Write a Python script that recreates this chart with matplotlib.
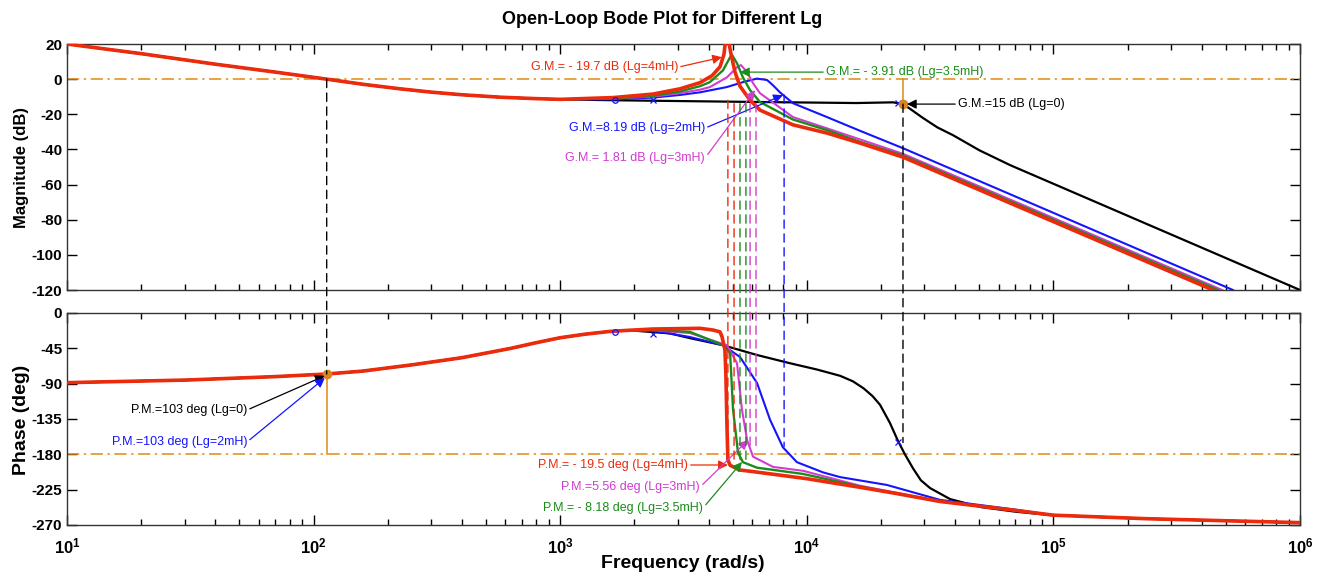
import matplotlib
matplotlib.use("Agg")
import matplotlib.pyplot as plt
from matplotlib.patches import ConnectionPatch
from matplotlib.ticker import LogLocator, NullFormatter

plt.rcParams['font.family'] = ['Liberation Sans Narrow', 'Liberation Sans', 'DejaVu Sans']
plt.rcParams['mathtext.fontset'] = 'custom'
plt.rcParams['mathtext.rm'] = 'Liberation Sans:bold'
plt.rcParams['mathtext.bf'] = 'Liberation Sans:bold'

# ---------------- data ----------------
# shared low-frequency magnitude (all Lg overlap), rad/s and dB
low_mag_w = [10, 20, 40, 70, 113, 160, 224, 300, 400, 575, 800, 1000]
low_mag_db = [20, 14.5, 8.5, 4.0, 0.0, -3.0, -5.5, -7.4, -8.9, -10.3, -11.1, -11.5]

black_mag_w = [1637, 3162, 6310, 10000, 15850, 22390, 24550, 26300, 29510, 33880, 39170, 50120, 66680, 1000000]
black_mag_db = [-12, -12.5, -13, -13.3, -13.6, -13.2, -14.2, -17, -22, -27.5, -31.9, -40.5, -48.9, -120]

blue_mag_w = [1637, 2377, 3062, 3690, 4742, 5508, 6281, 6902, 7295, 7780, 8790, 12080, 16440, 24550, 534600]
blue_mag_db = [-11.5, -10.5, -9, -7.5, -4.5, -1.7, 0.3, -0.5, -3.5, -7.5, -13.7, -21.6, -29.4, -39.3, -120]

magenta_mag_w = [1637, 2377, 3062, 3690, 4046, 4742, 5212, 5408, 5728, 6053, 6457, 8790, 12080, 16440, 24550, 483100]
magenta_mag_db = [-11, -10, -8, -6, -4.5, 1, 6.8, 8, 4, -2.3, -8, -21.6, -28, -34.3, -42.5, -120]

green_mag_w = [1637, 2377, 3062, 3690, 4046, 4571, 4887, 4977, 5212, 5508, 5888, 6457, 8790, 12080, 16440, 24550, 464500]
green_mag_db = [-11, -9.5, -7, -4, -1.7, 5, 12.5, 13.7, 9, 1, -6.3, -13, -23, -29, -35.7, -43.5, -120]

red_mag_w = [1637, 2377, 3062, 3690, 4130, 4446, 4613, 4699, 4786, 4932, 5117, 5358, 5888, 6457, 8790, 12080, 16440, 24550, 443600]
red_mag_db = [-10.5, -8.5, -5.5, -2, 2, 7, 14, 24, 24, 14, 4, -4, -12, -17.6, -26, -30.7, -36.4, -44.4, -120]

# shared low-frequency phase, rad/s and deg
low_ph_w = [10, 30.4, 70, 113, 158, 251, 398, 631, 794, 1000, 1259, 1585, 1900]
low_ph_deg = [-88.7, -85.4, -81, -77.7, -74, -66, -57, -45, -38, -31.5, -27, -23.5, -22]
# shared high-frequency phase tail
tail_ph_w = [100000, 239900, 1000000]
tail_ph_deg = [-257.5, -262, -267]

black_ph_w = [2786, 3357, 4571, 6281, 8551, 11000, 13650, 15380, 17000, 18500, 19820, 21730, 23440, 25000, 26980, 29000, 31620, 38110, 50350, 70000, 94190]
black_ph_deg = [-26, -32, -41, -53.5, -64, -72, -80, -87, -96, -106, -117, -140, -163, -180, -198, -213, -223, -237, -247, -253, -257]

blue_ph_w = [2377, 3357, 4571, 5358, 6281, 7096, 7998, 9120, 11640, 13650, 21130, 34670, 68550]
blue_ph_deg = [-22.5, -30.6, -41, -56, -89, -136, -171, -190, -203, -209, -219, -238, -250]

magenta_ph_w = [2377, 3357, 4742, 5212, 5458, 5728, 6053, 7295, 9661, 16440, 23200, 34670, 68550]
magenta_ph_deg = [-22, -25.5, -41, -64, -123, -162, -183, -196, -201, -220, -229, -240, -251]

green_ph_w = [2377, 3357, 4571, 4887, 4950, 5023, 5260, 5508, 6281, 9661, 16440, 23200, 34670, 68550]
green_ph_deg = [-21.5, -24, -41, -51, -85, -123, -178, -190, -197, -205, -221, -230, -240, -251]

red_ph_w = [2377, 3690, 4169, 4446, 4529, 4656, 4699, 4742, 4786, 4887, 5358, 6053, 10000, 16440, 23200, 34670, 68550]
red_ph_deg = [-20.4, -19.5, -21.7, -24, -30, -47, -80, -140, -187, -194, -200, -202, -211, -222, -230, -240, -251]

# margin marker lines: frequency, magnitude start dB, phase end deg, colour
margin_w = [113, 24550, 4786, 5070, 5358, 5664, 5888, 6223, 8090]
margin_mag = [0, -14.2, -12, -14, -14, -14, -14, -14, -9]
margin_ph = [-77.7, -165, -183, -186, -187, -188, -170, -174, -170]
margin_col = ['black', 'black', 'red', 'red', 'green', 'green', 'magenta', 'magenta', 'blue']

colors = {'black': '#000000', 'blue': '#1414ff', 'magenta': '#d23cd2',
          'green': '#1b8c1b', 'red': '#ec2a0c', 'orange': '#e08a10'}

# ---------------- figure ----------------
fig = plt.figure(figsize=(13.2, 5.78), dpi=100)
ax1 = fig.add_axes([67/1320, 1-290/578, 1233/1320, 246/578])
ax2 = fig.add_axes([67/1320, 1-525/578, 1233/1320, 212/578])

series = [
    ('black', black_mag_w, black_mag_db, black_ph_w, black_ph_deg, 1.6),
    ('blue', blue_mag_w, blue_mag_db, blue_ph_w, blue_ph_deg, 1.5),
    ('magenta', magenta_mag_w, magenta_mag_db, magenta_ph_w, magenta_ph_deg, 1.5),
    ('green', green_mag_w, green_mag_db, green_ph_w, green_ph_deg, 1.7),
    ('red', red_mag_w, red_mag_db, red_ph_w, red_ph_deg, 2.6),
]
for key, mw, md, pw, pd, lw in series:
    c = colors[key]
    ax1.plot(low_mag_w + mw, low_mag_db + md, color=c, lw=lw, zorder=3)
    ax2.plot(low_ph_w + pw + tail_ph_w, low_ph_deg + pd + tail_ph_deg, color=c, lw=lw, zorder=3)

for ax in (ax1, ax2):
    ax.set_xscale('log')
    ax.set_xlim(10, 1e6)
    ax.tick_params(which='both', direction='in', top=True, right=True, labelsize=11)
    ax.tick_params(which='major', length=7, width=1)
    ax.tick_params(which='minor', length=4, width=1)
    ax.xaxis.set_minor_locator(LogLocator(base=10, subs=range(2, 10), numticks=20))
    ax.xaxis.set_minor_formatter(NullFormatter())
    for sp in ax.spines.values():
        sp.set_linewidth(1.0)
        sp.set_color('#333333')

ax1.set_ylim(-120, 20)
ax1.set_yticks([20, 0, -20, -40, -60, -80, -100, -120])
ax1.set_yticklabels(['20', '0', '-20', '-40', '-60', '-80', '-100', '-120'], fontweight='bold')
ax1.xaxis.set_major_formatter(NullFormatter())

ax2.set_ylim(-270, 0)
ax2.set_yticks([0, -45, -90, -135, -180, -225, -270])
ax2.set_yticklabels(['0', '-45', '-90', '-135', '-180', '-225', '-270'], fontweight='bold')
ax2.set_xticks([1e1, 1e2, 1e3, 1e4, 1e5, 1e6])
ax2.set_xticklabels([r'$\mathbf{10^{%d}}$' % k for k in range(1, 7)], fontsize=12)
ax2.tick_params(axis='x', which='major', pad=8)

# reference lines
ax1.axhline(0, color=colors['orange'], ls=(0, (8, 3, 1.5, 3)), lw=1.1, zorder=2)
ax2.axhline(-180, color=colors['orange'], ls=(0, (8, 3, 1.5, 3)), lw=1.1, zorder=2)

# margin dashed lines spanning both axes
for w, m, p, ck in zip(margin_w, margin_mag, margin_ph, margin_col):
    con = ConnectionPatch(xyA=(w, m), coordsA=ax1.transData, xyB=(w, p), coordsB=ax2.transData,
                          color=colors[ck], ls=(0, (6, 4)), lw=1.0, zorder=1)
    fig.add_artist(con)

# orange margin markers
ax2.plot([113, 113], [-77.7, -180], color=colors['orange'], lw=1.1, zorder=4)
ax2.plot([113], [-77.7], 'o', color='#d9861c', ms=6, zorder=6)
ax1.plot([24550, 24550], [0, -14.2], color=colors['orange'], lw=1.1, zorder=4)
ax1.plot([24550], [-14.2], 'o', color='#d9861c', ms=6, zorder=6)

# small pole/zero style markers
ax1.plot([1667], [-12], 'o', mfc='none', mec=colors['blue'], ms=4, mew=0.9, zorder=5)
ax1.plot([2377, 23440], [-12, -13.8], 'x', color=colors['blue'], ms=4, mew=0.9, zorder=5)
ax2.plot([1667], [-24], 'o', mfc='none', mec=colors['blue'], ms=4, mew=0.9, zorder=5)
ax2.plot([2377, 23440], [-27, -164], 'x', color=colors['blue'], ms=4, mew=0.9, zorder=5)

# annotations
def note(ax, text, xy, xytext, ck, ha):
    rel = (1, 0.5) if ha == 'right' else (0, 0.5)
    ax.annotate(text, xy=xy, xytext=xytext, ha=ha, va='center', fontsize=9,
                color=colors[ck], zorder=7,
                arrowprops=dict(arrowstyle='-|>', color=colors[ck], lw=0.9,
                                mutation_scale=14, relpos=rel, shrinkA=0, shrinkB=0))

note(ax1, 'G.M.= - 19.7 dB (Lg=4mH)', (4529, 12.5), (3006, 6.8), 'red', 'right')
note(ax1, 'G.M.= - 3.91 dB (Lg=3.5mH)', (5358, 4.0), (11960, 4.0), 'green', 'left')
note(ax1, 'G.M.=15 dB (Lg=0)', (25470, -14.2), (41020, -14.2), 'black', 'left')
note(ax1, 'G.M.=8.19 dB (Lg=2mH)', (8000, -9.1), (3864, -27.9), 'blue', 'right')
note(ax1, 'G.M.= 1.81 dB (Lg=3mH)', (6166, -6.3), (3864, -45.0), 'magenta', 'right')

note(ax2, 'P.M.=103 deg (Lg=0)', (111, -80), (53.7, -123.6), 'black', 'right')
note(ax2, 'P.M.=103 deg (Lg=2mH)', (111, -82.8), (53.7, -164.3), 'blue', 'right')
note(ax2, 'P.M.= - 19.5 deg (Lg=4mH)', (4786, -193.6), (3296, -193.6), 'red', 'right')
note(ax2, 'P.M.=5.56 deg (Lg=3mH)', (5781, -161.8), (3690, -221.7), 'magenta', 'right')
note(ax2, 'P.M.= - 8.18 deg (Lg=3.5mH)', (5458, -189.8), (3793, -248.4), 'green', 'right')

# titles and labels
fig.text(662/1320, 1-20/578, 'Open-Loop Bode Plot for Different Lg', ha='center', va='center',
         fontsize=13, fontweight='bold')
fig.text(22/1320, 1-167/578, 'Magnitude (dB)', rotation=90, ha='center', va='center',
         fontsize=12, fontweight='bold')
fig.text(22/1320, 1-420/578, 'Phase (deg)', rotation=90, ha='center', va='center',
         fontsize=14, fontweight='bold')
fig.text(683/1320, 1-563/578, 'Frequency (rad/s)', ha='center', va='center',
         fontsize=14, fontweight='bold')

fig.savefig('out.png', dpi=100)
